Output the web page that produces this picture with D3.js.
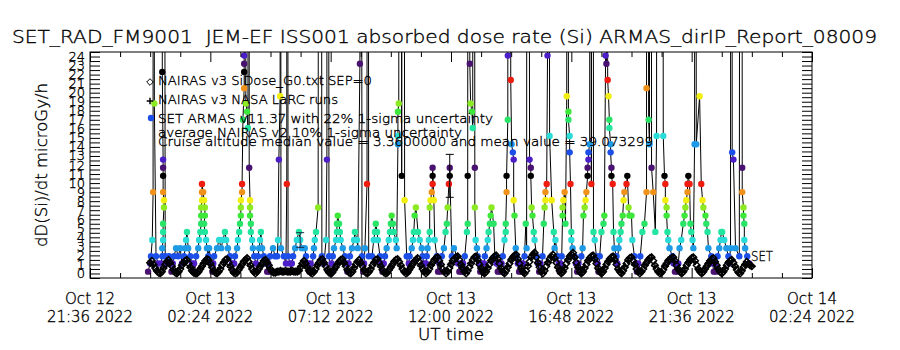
<!DOCTYPE html>
<html>
<head>
<meta charset="utf-8">
<script src="https://cdn.jsdelivr.net/npm/d3@7"></script>
<style>
  body { margin: 0; background: #fff; }
  text { font-family: "DejaVu Sans", sans-serif; font-weight: 200; fill: #000; stroke: #000; stroke-width: 0.35px; }
</style>
</head>
<body>
<svg id="chart" width="900" height="350"></svg>
<script>
// Titles and labels
const titleText = 'SET_RAD_FM9001  JEM-EF ISS001 absorbed dose rate (Si) ARMAS_dirIP_Report_08009';
const yTitle = 'dD(Si)/dt microGy/h';
const xTitle = 'UT time';
const xTickDates = ['2022-10-12T21:36Z', '2022-10-13T02:24Z', '2022-10-13T07:12Z', '2022-10-13T12:00Z',
                    '2022-10-13T16:48Z', '2022-10-13T21:36Z', '2022-10-14T02:24Z'];
const xTickDay = ['Oct 12', 'Oct 13', 'Oct 13', 'Oct 13', 'Oct 13', 'Oct 13', 'Oct 14'];
const xTickTime = ['21:36 2022', '02:24 2022', '07:12 2022', '12:00 2022', '16:48 2022', '21:36 2022', '02:24 2022'];
const yTicks = [0, 1, 2, 3, 4, 5, 6, 7, 8, 9, 10, 11, 12, 13, 14, 15, 16, 17, 18, 19, 20, 21, 22, 23, 24];
const legendLabels = [
  'NAIRAS v3 SiDose_G0.txt SEP=0',
  'NAIRAS v3 NASA LaRC runs',
  'SET ARMAS v11.37 with 22% 1-sigma uncertainty',
  'average NAIRAS v2 10% 1-sigma uncertainty',
  'Cruise altitude median value = 3.3600000 and mean value = 39.073299'
];

// ARMAS dose rate, minutes after 2022-10-13 00:00 UT (250 = off scale)
const armasMin = [
  -5, 0, 2, 5, 7, 7, 10, 14, 19, 26, 29, 29, 31, 31, 31, 33, 33, 31, 31, 31, 31, 29, 29, 36, 41, 45, 48, 51, 54,
  57, 62, 67, 72, 76, 81, 84, 86, 88, 91, 96, 100, 103, 105, 107,
  110, 115, 117, 120, 122, 122, 122, 124, 124, 124, 127, 129, 131, 131, 129, 131, 134, 136, 139, 141, 146, 149, 151,
  153, 160, 165, 170, 174, 179, 182, 186, 191, 196, 199, 201,
  203, 208, 210, 213, 215, 217, 217, 217, 220, 220, 222, 225, 225, 225, 225, 225, 229, 232, 234, 237, 237, 239, 239, 239, 241, 241, 244, 246, 249, 253, 255,
  258, 261, 263, 265, 268, 272, 277, 280, 282, 284,
  287, 294, 299, 304, 306, 308, 311, 311, 313, 320, 325, 327, 327, 330, 335, 337, 339,
  342, 347, 351, 356, 359, 363, 370, 373, 378, 381, 384, 387,
  390, 392, 394, 397, 402, 406, 411, 416, 421, 423, 423, 428, 431, 434,
  437, 440, 445, 447, 447, 449, 452, 454, 456, 461, 466, 469, 472, 475,
  478, 483, 488, 490, 495, 497, 502, 502, 507, 510, 512,
  514, 519, 519, 523, 531, 535, 538, 540, 543, 545, 550, 553, 556, 559,
  562, 566, 571, 574, 576, 578, 581, 583, 588, 590, 593, 593, 593, 595, 598, 602, 605, 609, 614, 617, 619,
  621, 626, 629, 631, 633, 636, 641, 645, 650, 652, 655, 657, 660,
  662, 664, 667, 669, 669, 671, 674, 676, 676, 676, 679, 681, 686, 689, 692, 695,
  698, 703, 707, 710, 712, 715, 717, 717, 722, 727, 734, 737, 740, 743, 746, 749, 751,
  753, 758, 760, 760, 762, 765, 767, 770, 772, 774, 777, 777, 779, 782, 784, 787, 790, 793, 796, 799,
  801, 805, 808, 810, 813, 815, 817, 822, 825, 829, 832, 835, 838, 841,
  844, 848, 851, 851, 853, 853, 856, 856, 858, 863, 865, 868, 870, 870, 872, 875, 877, 880, 883, 886, 889, 892,
  896, 899, 901, 903, 908, 911, 911, 913, 915, 918, 920, 925, 928, 931, 934, 936,
  939, 942, 944, 946, 946, 949, 951, 951, 956, 961, 966, 968, 970, 975, 978, 980, 982,
  985, 987, 987, 989, 992, 994, 997, 999, 1001, 1001, 1004, 1004, 1006, 1008, 1008, 1011, 1016, 1019, 1022, 1025, 1028,
  1032, 1035, 1037, 1040, 1042, 1044, 1047, 1047, 1049, 1049, 1052, 1052, 1056, 1059, 1061, 1064, 1068, 1071, 1073,
  1076, 1080, 1085, 1087, 1090, 1092, 1092, 1095, 1097, 1099, 1099, 1102, 1102, 1104, 1104, 1107, 1109, 1111, 1116, 1118,
  1121, 1123, 1126, 1128, 1131, 1133, 1135, 1140, 1142, 1145, 1147, 1152, 1154, 1159, 1162, 1165, 1168, 1170,
  1173, 1178, 1183, 1188, 1188, 1190, 1193, 1195, 1197, 1200, 1204, 1209, 1212, 1214, 1224, 1228, 1231, 1233, 1233, 1236, 1236, 1238, 1240, 1243, 1250, 1253, 1256, 1259, 1262, 1264,
  1267, 1271, 1276, 1279, 1281, 1283, 1286, 1286, 1288, 1291, 1293, 1295, 1298, 1300, 1303, 1305, 1307, 1315, 1319, 1322, 1324, 1329, 1331, 1334, 1336, 1343, 1346, 1349, 1352, 1355,
  1358, 1362, 1365, 1367, 1369, 1374, 1379, 1384, 1386,
  1389, 1391, 1393, 1396, 1401, 1410, 1415, 1417, 1417, 1420, 1420, 1422, 1422, 1424, 1429, 1434
];
const armasDose = [
  0.2, 1.1, 1.9, 3.7, 9.0, 250, 18.8, 1.9, 1.1, 1.1, 1.9, 2.8, 3.7, 4.6, 5.5, 7.3, 8.1, 9.0, 10.8, 11.7, 12.6, 22.3, 250, 1.9, 1.1, 1.9, 1.1, 0.2, 1.1,
  1.9, 2.8, 1.9, 2.8, 1.1, 1.9, 2.8, 3.7, 4.6, 2.8, 1.9, 1.1, 0.2, 1.1, 0.2,
  1.9, 2.8, 3.7, 4.6, 5.5, 6.4, 7.3, 8.1, 9.0, 9.9, 9.0, 8.1, 7.3, 6.4, 5.5, 4.6, 3.7, 2.8, 1.9, 2.8, 1.1, 0.2, 1.1,
  1.9, 2.8, 3.7, 2.8, 3.7, 4.6, 3.7, 2.8, 1.9, 1.1, 0.2, 1.1,
  1.9, 2.8, 3.7, 4.6, 5.5, 6.4, 7.3, 8.1, 9.0, 9.9, 17.0, 20.5, 22.3, 23.2, 24.1, 250, 18.8, 17.9, 16.1, 250, 11.7, 8.1, 7.3, 6.4, 5.5, 4.6, 3.7, 2.8, 1.9, 1.1, 0.2,
  1.9, 2.8, 3.7, 4.6, 2.8, 1.9, 1.1, 0.2, 1.1, 0.2,
  1.9, 2.8, 1.9, 1.9, 3.7, 12.6, 19.6, 250, 2.8, 1.9, 1.1, 9.9, 250, 1.9, 1.1, 0.2, 1.1,
  1.9, 2.8, 3.7, 4.6, 3.7, 2.8, 2.8, 1.9, 1.1, 0.2, 1.1, 0.2,
  1.9, 2.8, 3.7, 4.6, 7.3, 250, 1.9, 1.1, 3.7, 12.6, 250, 1.9, 0.2, 1.1,
  1.9, 2.8, 3.7, 4.6, 5.5, 6.4, 5.5, 4.6, 3.7, 2.8, 1.9, 1.1, 0.2, 1.1,
  1.9, 2.8, 3.7, 4.6, 3.7, 2.8, 23.2, 250, 1.9, 0.2, 1.1,
  2.8, 9.9, 250, 1.9, 1.9, 3.7, 4.6, 5.5, 4.6, 3.7, 1.9, 1.1, 0.2, 1.1,
  1.9, 2.8, 3.7, 4.6, 5.5, 6.4, 5.5, 4.6, 3.7, 2.8, 14.3, 15.2, 17.9, 18.8, 250, 10.8, 250, 8.1, 1.9, 0.2, 1.1,
  1.9, 2.8, 3.7, 4.6, 6.4, 7.3, 4.6, 3.7, 2.8, 1.9, 1.1, 0.2, 1.1,
  1.9, 2.8, 3.7, 4.6, 7.3, 8.1, 9.0, 9.9, 10.8, 11.7, 8.1, 3.7, 1.9, 0.2, 1.1, 0.2,
  1.9, 2.8, 4.6, 5.5, 7.3, 9.9, 10.8, 11.7, 1.9, 2.8, 1.9, 1.1, 0.2, 1.1, 0.2, 1.1, 0.2,
  1.9, 4.6, 5.5, 10.8, 250, 23.2, 18.8, 17.9, 16.1, 250, 11.7, 7.3, 3.7, 2.8, 1.9, 1.1, 0.2, 1.1, 0.2, 1.1,
  1.9, 2.8, 3.7, 4.6, 5.5, 6.4, 7.3, 5.5, 1.9, 1.1, 0.2, 1.1, 0.2, 1.1,
  1.9, 3.7, 4.6, 5.5, 9.0, 10.8, 17.0, 24.1, 250, 21.4, 14.3, 13.4, 12.6, 8.1, 6.4, 2.8, 1.9, 1.1, 0.2, 1.1, 0.2, 1.1,
  1.9, 5.5, 2.8, 250, 12.6, 11.7, 10.8, 7.3, 6.4, 4.6, 3.7, 1.9, 1.1, 0.2, 1.1, 0.2,
  1.9, 5.5, 7.3, 8.1, 9.0, 9.9, 24.1, 250, 15.2, 8.1, 4.6, 2.8, 3.7, 1.9, 1.1, 0.2, 1.1,
  1.9, 6.4, 7.3, 8.1, 9.0, 5.5, 19.6, 250, 17.9, 17.0, 15.2, 13.4, 9.9, 4.6, 3.7, 2.8, 1.9, 1.1, 0.2, 1.1, 0.2,
  1.9, 2.8, 6.4, 7.3, 8.1, 9.0, 10.8, 11.7, 12.6, 13.4, 14.3, 250, 9.9, 250, 4.6, 3.7, 1.9, 1.1, 0.2,
  1.9, 4.6, 5.5, 6.4, 24.1, 23.2, 250, 21.4, 19.6, 17.0, 16.1, 14.3, 13.4, 11.7, 10.8, 9.9, 4.6, 2.8, 1.9, 1.1,
  2.8, 3.7, 4.6, 5.5, 6.4, 8.1, 9.0, 9.9, 10.8, 7.3, 6.4, 6.4, 3.7, 1.9, 1.1, 0.2, 1.1, 0.2,
  1.9, 4.6, 5.5, 9.0, 20.5, 250, 17.0, 14.3, 250, 11.7, 9.0, 4.6, 15.2, 250, 250, 15.2, 10.8, 9.9, 8.1, 7.3, 6.4, 4.6, 3.7, 2.8, 1.9, 1.1, 0.2, 1.1, 0.2, 1.1,
  2.8, 3.7, 5.5, 6.4, 7.3, 8.1, 9.0, 9.9, 10.8, 9.9, 5.5, 4.6, 3.7, 2.8, 14.3, 250, 14.3, 19.6, 9.9, 8.1, 7.3, 6.4, 5.5, 4.6, 2.8, 1.9, 1.1, 0.2, 1.1, 0.2,
  1.9, 2.8, 3.7, 4.6, 4.6, 3.7, 2.8, 1.9, 1.1,
  2.8, 250, 13.4, 12.6, 2.8, 1.9, 250, 11.7, 9.0, 7.3, 6.4, 5.5, 3.7, 2.8, 1.9, 1.1
];

// ARMAS points carrying the 22% error bar
const errMin = [359, 717];
const errDose = [3.7, 10.8];
const errFrac = 0.22;

// NAIRAS v3 SiDose, one value every 4 minutes from 2022-10-13 00:00 UT
const nairasStep = 4;
const nairasDose = [
  1.2, 1.4, 1.0, 0.6, 0.3, 0.1,
  0.0, 0.2, 0.6, 1.0, 1.3, 1.5, 1.2, 0.8, 0.4, 0.1,
  0.0, 0.2, 0.5, 0.9, 1.2, 1.4, 1.5, 1.1, 0.7, 0.3, 0.1,
  0.0, 0.0, 0.2, 0.5, 0.8, 1.1, 1.4, 1.6, 1.5, 1.1, 0.7, 0.3, 0.1,
  0.0, 0.2, 0.5, 0.9, 1.2, 1.5, 1.6, 1.2, 0.8, 0.4, 0.1,
  0.0, 0.1, 0.4, 0.7, 1.0, 1.3, 1.5, 1.7, 1.3, 0.9, 0.5, 0.2,
  0.0, 0.2, 0.5, 0.8, 1.1, 1.4, 1.5, 1.2, 0.9, 0.5, 0.2, 0.1, 0.1,
  0.2, 0.2, 0.3, 0.2, 0.2, 0.3, 0.2, 0.2, 0.2, 0.3, 0.2, 0.2, 0.2,
  0.3, 0.7, 1.1, 1.4, 1.1, 0.7, 0.3, 0.1,
  0.0, 0.2, 0.5, 0.9, 1.2, 1.5, 1.6, 1.2, 0.8, 0.4, 0.1,
  0.0, 0.1, 0.4, 0.7, 1.0, 1.3, 1.5, 1.6, 1.2, 0.8, 0.4, 0.1,
  0.0, 0.2, 0.6, 1.0, 1.3, 1.5, 1.2, 0.8, 0.4, 0.1,
  0.0, 0.2, 0.5, 0.9, 1.2, 1.5, 1.6, 1.2, 0.8, 0.4, 0.1,
  0.0, 0.1, 0.4, 0.7, 1.0, 1.3, 1.5, 1.6, 1.3, 0.9, 0.5, 0.2,
  0.0, 0.1, 0.4, 0.7, 1.0, 1.3, 1.5, 1.7, 1.3, 0.9, 0.5, 0.2,
  0.0, 0.2, 0.5, 0.9, 1.2, 1.5, 1.7, 1.8, 1.4, 1.0, 0.5, 0.2,
  0.0, 0.2, 0.6, 1.0, 1.4, 1.6, 1.8, 1.9, 1.5, 1.0, 0.6, 0.2,
  0.0, 0.3, 0.7, 1.1, 1.5, 1.8, 1.9, 1.5, 1.0, 0.6, 0.2,
  0.0, 0.2, 0.6, 1.0, 1.4, 1.7, 1.9, 2.0, 1.6, 1.1, 0.6, 0.2,
  0.0, 0.3, 0.7, 1.1, 1.5, 1.8, 2.0, 2.1, 1.6, 1.1, 0.6, 0.2,
  0.0, 0.3, 0.8, 1.3, 1.8, 2.1, 2.3, 1.8, 1.2, 0.7, 0.2,
  0.0, 0.3, 0.8, 1.2, 1.6, 1.9, 2.1, 1.7, 1.2, 0.7, 0.3,
  0.0, 0.2, 0.6, 1.1, 1.5, 1.9, 2.1, 2.3, 1.8, 1.2, 0.7, 0.2,
  0.0, 0.2, 0.6, 1.0, 1.4, 1.7, 1.9, 2.0, 1.6, 1.1, 0.6, 0.2,
  0.0, 0.2, 0.6, 1.0, 1.3, 1.6, 1.8, 1.9, 1.5, 1.0, 0.5, 0.2,
  0.0, 0.3, 0.7, 1.1, 1.5, 1.7, 1.8, 1.4, 1.0, 0.5, 0.2,
  0.0, 0.2, 0.5, 0.9, 1.2, 1.5, 1.7, 1.8, 1.4, 0.9, 0.5, 0.2,
  0.0, 0.1, 0.4, 0.8, 1.1, 1.4, 1.6, 1.7, 1.8, 1.4, 0.9, 0.5, 0.2,
  0.0, 0.2, 0.5, 0.9, 1.2, 1.5, 1.7, 1.8, 1.4, 0.9, 0.5, 0.2,
  0.0, 0.2, 0.5, 0.8, 1.1, 1.4, 1.6, 1.7, 1.3, 0.9, 0.5, 0.2,
  0.0, 0.2, 0.5, 0.9, 1.2, 1.4, 1.5, 1.2, 0.8, 0.4, 0.1,
  0.0, 0.3, 0.7, 1.0, 1.3, 1.1, 0.9, 0.8
];

// NAIRAS v3 NASA LaRC runs, one value every 8 minutes
const larcStep = 8;
const larcDose = [
  1.1, 0.9, 0.3, 0.1, 0.6, 1.4,
  1.2, 0.4, 0.0, 0.6, 1.2, 1.4,
  0.7, 0.1, 0.0, 0.6, 1.2, 1.5,
  1.0, 0.3, 0.0, 0.6, 1.3, 1.5,
  0.7, 0.1, 0.2, 0.8, 1.4, 1.6,
  0.8, 0.2, 0.2, 0.9, 1.4, 1.1,
  0.4, 0.1, 0.2, 0.2, 0.2, 0.2,
  0.3, 0.2, 0.2, 0.8, 1.3, 0.6,
  0.1, 0.3, 1.0, 1.5, 1.1, 0.3,
  0.1, 0.5, 1.1, 1.5, 1.1, 0.3,
  0.1, 0.7, 1.3, 1.1, 0.3, 0.1,
  0.6, 1.3, 1.5, 0.7, 0.1, 0.2,
  0.8, 1.4, 1.5, 0.8, 0.2, 0.2,
  0.8, 1.4, 1.6, 0.8, 0.2, 0.3,
  1.0, 1.6, 1.7, 0.9, 0.2, 0.3,
  1.1, 1.7, 1.8, 0.9, 0.3, 0.4,
  1.2, 1.7, 1.4, 0.5, 0.1, 0.7,
  1.5, 1.8, 1.5, 0.5, 0.1, 0.8,
  1.6, 1.9, 1.5, 0.5, 0.1, 0.9,
  1.7, 2.2, 1.1, 0.3, 0.4, 1.3,
  1.8, 1.6, 0.6, 0.1, 0.7, 1.6,
  2.0, 1.7, 0.6, 0.1, 0.7, 1.5,
  1.8, 1.5, 0.5, 0.1, 0.7, 1.4,
  1.7, 1.4, 0.4, 0.1, 0.8, 1.4,
  1.7, 0.9, 0.3, 0.3, 1.0, 1.5,
  1.7, 0.8, 0.2, 0.2, 0.9, 1.5,
  1.6, 1.3, 0.4, 0.1, 0.6, 1.3,
  1.6, 1.3, 0.4, 0.1, 0.6, 1.2,
  1.5, 1.2, 0.4, 0.1, 0.6, 1.3,
  1.4, 0.7, 0.1, 0.4, 1.0, 1.0,
  0.8
];

// colour cycle of the dose levels (IDL colour table steps)
const levelColors = ['#4a1270', '#4c1ec8', '#1c4ee8', '#1e9ae6', '#2adcd8', '#22e6a0', '#2ae468',
                     '#3ee83a', '#8cea22', '#f2ee10', '#f0921a', '#f01c10', '#000000'];
const levelStep = 0.885;
const levelBase = 0.17;

const svg = d3.select('#chart');
const plot = { left: 90, right: 812, top: 52, bottom: 278 };
const dayStart = Date.UTC(2022, 9, 13);
const toDate = m => new Date(dayStart + m * 60000);

const x = d3.scaleUtc()
  .domain([new Date(xTickDates[0]), new Date(xTickDates[xTickDates.length - 1])])
  .range([plot.left, plot.right]);
const y = d3.scaleLinear()
  .domain([-0.5, 24.5])
  .range([plot.bottom, plot.top]);

const levelColor = v => {
  const k = Math.round((v - levelBase) / levelStep);
  return levelColors[((k % 13) + 13) % 13];
};

svg.append('defs').append('clipPath').attr('id', 'clip')
  .append('rect')
  .attr('x', plot.left).attr('y', plot.top)
  .attr('width', plot.right - plot.left).attr('height', plot.bottom - plot.top);

// Title
svg.append('text')
  .attr('x', 12).attr('y', 43)
  .attr('font-size', 18)
  .attr('textLength', 865).attr('lengthAdjust', 'spacingAndGlyphs')
  .attr('xml:space', 'preserve')
  .text(titleText);

const gData = svg.append('g').attr('clip-path', 'url(#clip)');

// ARMAS line and dots
const armas = armasMin.map((m, i) => ({ t: toDate(m), v: armasDose[i] }));
gData.append('path')
  .datum(armas)
  .attr('fill', 'none')
  .attr('stroke', '#000')
  .attr('stroke-width', 1)
  .attr('d', d3.line().x(d => x(d.t)).y(d => y(d.v)));

gData.selectAll('circle.armas')
  .data(armas.filter(d => d.v < 25))
  .enter().append('circle')
  .attr('class', 'armas')
  .attr('cx', d => x(d.t))
  .attr('cy', d => y(d.v))
  .attr('r', 3.2)
  .attr('fill', d => levelColor(d.v));

// error bars
errMin.forEach((m, i) => {
  const cx = x(toDate(m));
  const lo = y(errDose[i] * (1 - errFrac));
  const hi = y(errDose[i] * (1 + errFrac));
  const g = gData.append('g').attr('stroke', i === 0 ? '#1c2c4c' : '#000').attr('stroke-width', 1);
  g.append('line').attr('x1', cx).attr('x2', cx).attr('y1', lo).attr('y2', hi);
  g.append('line').attr('x1', cx - 4).attr('x2', cx + 4).attr('y1', lo).attr('y2', lo);
  g.append('line').attr('x1', cx - 4).attr('x2', cx + 4).attr('y1', hi).attr('y2', hi);
});

// NAIRAS diamonds and LaRC crosses
const diamond = 'M0,-3.3L3.3,0L0,3.3L-3.3,0Z';
const plus = 'M-3.3,0H3.3M0,-3.3V3.3';
gData.selectAll('path.nairas')
  .data(nairasDose)
  .enter().append('path')
  .attr('class', 'nairas')
  .attr('transform', (v, i) => `translate(${x(toDate(i * nairasStep))},${y(v)})`)
  .attr('d', diamond)
  .attr('fill', 'none')
  .attr('stroke', '#000')
  .attr('stroke-width', 1.5);

gData.selectAll('path.larc')
  .data(larcDose)
  .enter().append('path')
  .attr('class', 'larc')
  .attr('transform', (v, i) => `translate(${x(toDate(i * larcStep))},${y(v)})`)
  .attr('d', plus)
  .attr('fill', 'none')
  .attr('stroke', '#000')
  .attr('stroke-width', 1.5);

// frame
svg.append('rect')
  .attr('x', plot.left).attr('y', plot.top)
  .attr('width', plot.right - plot.left).attr('height', plot.bottom - plot.top)
  .attr('fill', 'none').attr('stroke', '#000');

// x axes: major and minor ticks, bottom and top
const xMajor = xTickDates.map(d => new Date(d));
const xMinor = [];
xMajor.slice(0, -1).forEach(d => {
  for (let j = 1; j < 4; j++) xMinor.push(new Date(+d + j * 72 * 60000));
});
[[d3.axisBottom, plot.bottom], [d3.axisTop, plot.top]].forEach(([axis, ty]) => {
  svg.append('g').attr('transform', `translate(0,${ty})`)
    .call(axis(x).tickValues(xMajor).tickSize(-10).tickFormat(''))
    .call(g => g.select('.domain').remove());
  svg.append('g').attr('transform', `translate(0,${ty})`)
    .call(axis(x).tickValues(xMinor).tickSize(-5).tickFormat(''))
    .call(g => g.select('.domain').remove());
});

xMajor.forEach((d, i) => {
  svg.append('text')
    .attr('x', x(d)).attr('y', 304)
    .attr('text-anchor', 'middle').attr('font-size', 15)
    .attr('textLength', 50).attr('lengthAdjust', 'spacingAndGlyphs')
    .text(xTickDay[i]);
  svg.append('text')
    .attr('x', x(d)).attr('y', 322)
    .attr('text-anchor', 'middle').attr('font-size', 15)
    .attr('textLength', 86).attr('lengthAdjust', 'spacingAndGlyphs')
    .text(xTickTime[i]);
});

svg.append('text')
  .attr('x', x(new Date(xTickDates[3]))).attr('y', 340)
  .attr('text-anchor', 'middle').attr('font-size', 15)
  .attr('textLength', 66).attr('lengthAdjust', 'spacingAndGlyphs')
  .text(xTitle);

// y axes
const yMinor = yTicks.map(v => v + 0.5).concat([-0.5]);
[[d3.axisLeft, plot.left], [d3.axisRight, plot.right]].forEach(([axis, tx]) => {
  svg.append('g').attr('transform', `translate(${tx},0)`)
    .call(axis(y).tickValues(yTicks.concat(yMinor)).tickSize(-10).tickFormat(''))
    .call(g => g.select('.domain').remove());
});

svg.append('g').selectAll('text.ylab')
  .data(yTicks)
  .enter().append('text')
  .attr('class', 'ylab')
  .attr('x', 85)
  .attr('y', d => y(d) + 4.5)
  .attr('text-anchor', 'end')
  .attr('font-size', 13)
  .text(d => d);

svg.append('text')
  .attr('transform', 'translate(47,165) rotate(-90)')
  .attr('text-anchor', 'middle').attr('font-size', 16)
  .attr('textLength', 164).attr('lengthAdjust', 'spacingAndGlyphs')
  .text(yTitle);

// legend
const legendY = [85, 104, 123, 137, 146];
const legendW = [214, 180, 335, 304, 495];
legendLabels.forEach((t, i) => {
  svg.append('text')
    .attr('x', 158).attr('y', legendY[i])
    .attr('font-size', 13)
    .attr('textLength', legendW[i]).attr('lengthAdjust', 'spacingAndGlyphs')
    .text(t);
});
svg.append('path').attr('d', diamond).attr('transform', 'translate(150,82)')
  .attr('fill', 'none').attr('stroke', '#000');
svg.append('path').attr('d', plus).attr('transform', 'translate(150,101)')
  .attr('fill', 'none').attr('stroke', '#000').attr('stroke-width', 1.5);
svg.append('circle').attr('cx', 151).attr('cy', 118).attr('r', 3.2).attr('fill', levelColors[2]);

// series tag at the end of the ARMAS trace
svg.append('text')
  .attr('x', 751).attr('y', 261)
  .attr('font-size', 14)
  .attr('textLength', 22).attr('lengthAdjust', 'spacingAndGlyphs')
  .text('SET');
</script>
</body>
</html>
